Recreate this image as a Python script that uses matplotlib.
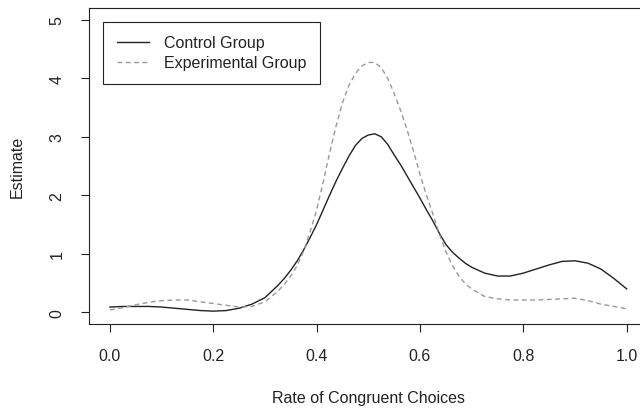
import matplotlib
matplotlib.use("Agg")
import matplotlib.pyplot as plt

# Density estimates of the rate of congruent choices, per group
rate = [0.000, 0.025, 0.050, 0.075, 0.100, 0.125, 0.150, 0.175, 0.200, 0.225,
        0.250, 0.275, 0.300, 0.325, 0.3375, 0.350, 0.3625, 0.375, 0.3875,
        0.400, 0.4125, 0.425, 0.4375, 0.450, 0.4625, 0.475, 0.4875,
        0.500, 0.5125, 0.525, 0.5375, 0.550, 0.5625, 0.575, 0.5875,
        0.600, 0.6125, 0.625, 0.6375, 0.650, 0.6625, 0.675, 0.6875,
        0.700, 0.725, 0.750, 0.775, 0.800, 0.825, 0.850, 0.875, 0.900,
        0.925, 0.950, 0.975, 1.000]
control = [0.09, 0.10, 0.10, 0.10, 0.09, 0.07, 0.05, 0.03, 0.02, 0.03,
           0.07, 0.14, 0.25, 0.46, 0.58, 0.72, 0.88, 1.07, 1.28,
           1.50, 1.75, 2.00, 2.24, 2.46, 2.67, 2.85, 2.97,
           3.03, 3.05, 3.00, 2.87, 2.69, 2.52, 2.33, 2.14,
           1.95, 1.75, 1.56, 1.35, 1.16, 1.03, 0.93, 0.84,
           0.77, 0.67, 0.62, 0.62, 0.67, 0.74, 0.81, 0.87, 0.88,
           0.84, 0.74, 0.58, 0.40]
experimental = [0.04, 0.08, 0.13, 0.17, 0.20, 0.21, 0.21, 0.18, 0.15, 0.12,
                0.09, 0.10, 0.18, 0.36, 0.48, 0.62, 0.80, 1.05, 1.38,
                1.75, 2.22, 2.72, 3.18, 3.58, 3.88, 4.08, 4.21,
                4.27, 4.27, 4.18, 4.00, 3.74, 3.45, 3.12, 2.75,
                2.36, 2.00, 1.68, 1.34, 1.04, 0.80, 0.62, 0.49,
                0.40, 0.27, 0.23, 0.21, 0.21, 0.21, 0.22, 0.23, 0.24,
                0.20, 0.14, 0.10, 0.06]

x_ticks = [0.0, 0.2, 0.4, 0.6, 0.8, 1.0]
x_tick_labels = ["0.0", "0.2", "0.4", "0.6", "0.8", "1.0"]
y_ticks = [0, 1, 2, 3, 4, 5]
y_tick_labels = ["0", "1", "2", "3", "4", "5"]

plt.rcParams["font.family"] = ["Liberation Sans", "DejaVu Sans"]
fs = 11.5

fig = plt.figure(figsize=(6.4, 4.1), dpi=100)
ax = fig.add_axes([0.1395, 0.2073, 0.872, 0.7707])

ax.plot(rate, control, color="#222222", lw=1.0, label="Control Group")
ax.plot(rate, experimental, color="#999999", lw=1.0, dashes=(3.5, 2.5),
        label="Experimental Group")

ax.set_xlim(-0.04, 1.04)
ax.set_ylim(-0.2, 5.2)
ax.set_xticks(x_ticks)
ax.set_xticklabels(x_tick_labels)
ax.set_yticks(y_ticks)
ax.set_yticklabels(y_tick_labels, rotation=90, va="center")
ax.tick_params(axis="both", direction="out", length=6, width=0.8,
               colors="#222222", labelsize=fs, labelcolor="#222222")
ax.tick_params(axis="x", pad=11)
ax.tick_params(axis="y", pad=12)

for sp in ax.spines.values():
    sp.set_color("#222222")
    sp.set_linewidth(0.8)

ax.set_xlabel("Rate of Congruent Choices", fontsize=fs, color="#222222",
              labelpad=20)
ax.set_ylabel("Estimate", fontsize=fs, color="#222222", labelpad=18)

leg = ax.legend(loc="upper left", bbox_to_anchor=(0.0251, 0.9566),
                borderaxespad=0, fontsize=fs, fancybox=False,
                edgecolor="#222222", framealpha=1, handlelength=2.0,
                handletextpad=0.95, borderpad=0.85, labelspacing=0.3)
leg.get_frame().set_linewidth(0.8)
for t in leg.get_texts():
    t.set_color("#222222")

fig.savefig("out.png", dpi=100)
